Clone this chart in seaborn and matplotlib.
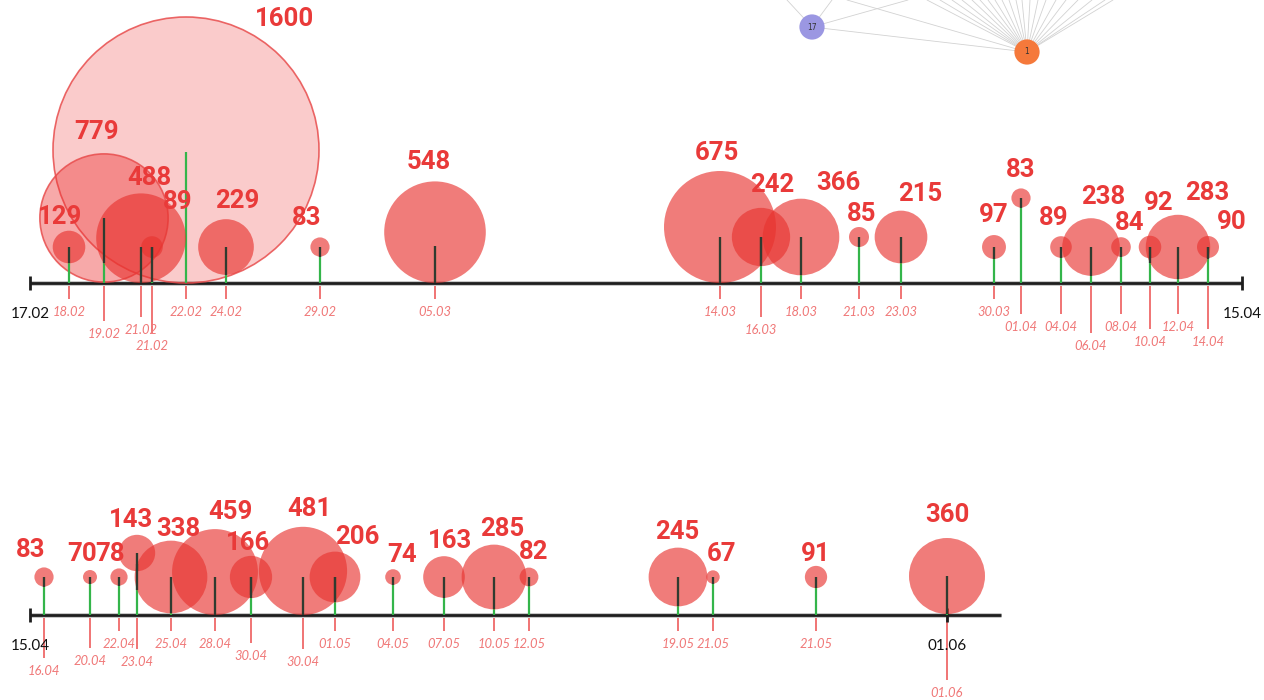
import numpy as np
import pandas as pd
import matplotlib.pyplot as plt
import seaborn as sns
from matplotlib.patches import Circle

# ---- first timeline : 17.02 -> 15.04
top_dates = ["18.02", "19.02", "21.02", "21.02", "22.02", "24.02", "29.02", "05.03",
             "14.03", "16.03", "18.03", "21.03", "23.03", "30.03", "01.04", "04.04",
             "06.04", "08.04", "10.04", "12.04", "14.04"]
top_values = [129, 779, 488, 89, 1600, 229, 83, 548,
              675, 242, 366, 85, 215, 97, 83, 89,
              238, 84, 92, 283, 90]
# where each date sits on the drawn timeline (the scale is not linear in days)
top_track = [69, 104, 141, 152, 186, 226, 320, 435,
             720, 761, 801, 859, 901, 994, 1021, 1061,
             1091, 1121, 1150, 1178, 1208]
top_stem = [36, 65, 36, 36, 131, 36, 36, 37,
            46, 46, 46, 46, 46, 36, 85, 36,
            36, 36, 36, 36, 36]
top_date_row = [29, 51, 47, 63, 29, 29, 29, 29,
                29, 47, 29, 29, 29, 29, 44, 44,
                63, 44, 59, 44, 59]
top_lbl_dx = [-9, -7, 8, 26, 99, 11, -13, -6,
              -3, 11, 37, 3, 19, 0, 0, -7,
              12, 9, 9, 29, 24]
top_lbl_dy = [3, -5, 2, -17, 19, -1, -2, -2,
              -1, -6, 1, 4, 0, -3, -1, -1,
              -4, 3, -16, -5, 3]
top_ends = ["17.02", "15.04"]
top_ends_track = [30, 1242]

# ---- second timeline : 15.04 -> 01.06
bot_dates = ["16.04", "20.04", "22.04", "23.04", "25.04", "28.04", "30.04", "30.04",
             "01.05", "04.05", "07.05", "10.05", "12.05", "19.05", "21.05", "21.05", "01.06"]
bot_values = [83, 70, 78, 143, 338, 459, 166, 481,
              206, 74, 163, 285, 82, 245, 67, 91, 360]
bot_track = [44, 90, 119, 137, 171, 215, 251, 303,
             335, 393, 444, 494, 529, 678, 713, 816, 947]
bot_stem = [38, 38, 38, 62, 38, 38, 38, 38,
            38, 38, 38, 38, 38, 38, 38, 38, 39]
bot_date_row = [56, 46, 29, 47, 29, 29, 41, 47,
                29, 29, 29, 29, 29, 29, 29, 29, 78]
bot_lbl_dx = [-13, -8, -9, -6, 7, 15, -3, 6,
              22, 9, 6, 8, 5, -1, 9, 0, 0]
bot_lbl_dy = [0, 1, 3, 2, 5, 0, 4, -1,
              2, 3, 2, 1, 1, 1, 1, 5, -6]
bot_ends = ["15.04", "01.06"]
bot_ends_track = [30, 947]
bot_axis_end = 1001

# ---- bit of a network graph cut off at the top
net_names = ["17", "1"]
net_x = [812, 1027]
net_y = [27, 52]
net_fill = ["#9b97e2", "#f5793b"]
edges_17_top = [787, 832, 908]
edges_1_top = [847, 927, 940, 952, 962, 972, 980, 988, 995, 1002, 1009,
               1016, 1022, 1030, 1038, 1046, 1056, 1066, 1078, 1092, 1105, 1113]

TOP_BASE, BOT_BASE = 283, 615
BUBBLE = "#e8332f"
VALUE_RED = "#e93a39"
DATE_RED = "#f07878"
STEM_RED = "#f07474"
GREEN = "#34b54a"
DARK = "#2f3b30"

# bubble radius scale (value -> px)
R_V = [0, 70, 90, 160, 240, 360, 480, 550, 700, 800, 1600]
R_PX = [0, 7, 11, 20.5, 29, 38, 44, 51, 57, 66, 133]


def build(dates, values, track, stem, row, dx, dy, base):
    df = pd.DataFrame({"date": dates, "value": values, "x": track, "stem": stem,
                       "row": row, "dx": dx, "dy": dy})
    df["r"] = np.interp(df["value"], R_V, R_PX)
    df["base"] = base
    df["cy"] = base - np.maximum(df["stem"], df["r"])
    df["top"] = base - df["stem"]
    df["big"] = df["value"] >= 700
    df["s"] = (1.44 * df["r"]) ** 2
    return df


df_top = build(top_dates, top_values, top_track, top_stem, top_date_row,
               top_lbl_dx, top_lbl_dy, TOP_BASE)
df_bot = build(bot_dates, bot_values, bot_track, bot_stem, bot_date_row,
               bot_lbl_dx, bot_lbl_dy, BOT_BASE)

sns.set_theme(style="white")
plt.rcParams["font.family"] = ["Lato", "DejaVu Sans"]

fig = plt.figure(figsize=(12.64, 7.0), dpi=100)
ax = fig.add_axes([0, 0, 1, 1])
ax.set_xlim(0, 1264)
ax.set_ylim(700, 0)
ax.axis("off")

# network fragment
for tx in edges_17_top:
    ax.plot([net_x[0], tx], [net_y[0], 0], color="#d2d2d2", lw=0.6, zorder=0)
for tx in edges_1_top:
    ax.plot([net_x[1], tx], [net_y[1], 0], color="#d2d2d2", lw=0.6, zorder=0)
ax.plot(net_x, net_y, color="#d2d2d2", lw=0.6, zorder=0)
net = pd.DataFrame({"name": net_names, "x": net_x, "y": net_y})
sns.scatterplot(data=net, x="x", y="y", hue="name", palette=net_fill, s=330,
                linewidth=0, legend=False, ax=ax, zorder=1)
for n, x, y in zip(net_names, net_x, net_y):
    ax.text(x, y, n, ha="center", va="center", fontsize=5.5, color="#333333",
            family="DejaVu Sans", zorder=2)


def draw_timeline(df, ends, ends_track, axis_end):
    base = df["base"].iloc[0]
    x1 = axis_end if axis_end else ends_track[1]
    ax.plot([ends_track[0], x1], [base, base], color="#c8c8c8", lw=3.6, zorder=1,
            solid_capstyle="butt")
    ax.plot([ends_track[0], x1], [base, base], color="#1e1e1e", lw=2.0, zorder=1.1,
            solid_capstyle="butt")
    ax.vlines(ends_track, base - 7, base + 7, color="#1e1e1e", lw=2.0, zorder=1.1)
    for lab, x in zip(ends, ends_track):
        ax.text(x, base + 31, lab, ha="center", va="center", fontsize=11,
                color="#111111", zorder=6)

    # red stems down to the date labels, green stems up to the bubbles
    ax.vlines(df["x"], base, base + df["row"] - 13, color=STEM_RED, lw=1.4, zorder=0.8)
    ax.vlines(df["x"], df["top"], base, color=GREEN, lw=1.6, zorder=2)

    big = df[df["big"]].sort_values("value", ascending=False)
    for _, b in big.iterrows():
        a = 0.25 if b["value"] > 1000 else 0.42
        ax.add_patch(Circle((b["x"], b["cy"]), b["r"], facecolor=(0.93, 0.2, 0.2, a),
                            edgecolor=(0.91, 0.3, 0.3, 0.85), lw=1.2, zorder=1.5))

    small = df[~df["big"]]
    sns.scatterplot(data=small, x="x", y="cy", s=small["s"].to_numpy(), color=BUBBLE,
                    alpha=0.64, linewidth=0, legend=False, ax=ax, zorder=3)

    # stem parts that sit inside a solid bubble look dark
    for _, st in df.iterrows():
        for _, b in small.iterrows():
            d = abs(st["x"] - b["x"])
            if d >= b["r"]:
                continue
            h = np.sqrt(b["r"] ** 2 - d ** 2)
            y0, y1 = max(st["top"], b["cy"] - h), min(base, b["cy"] + h)
            if y1 > y0:
                ax.vlines(st["x"], y0, y1, color=DARK, lw=1.6, zorder=4)

    for _, p in df.iterrows():
        ax.text(p["x"] + p["dx"], p["cy"] - p["r"] - 17 + p["dy"], str(p["value"]),
                ha="center", va="center", fontsize=18.5, fontweight="bold",
                family=["Roboto", "DejaVu Sans"], color=VALUE_RED, zorder=6)
        ax.text(p["x"], base + p["row"], p["date"], ha="center", va="center",
                fontsize=9.4, style="italic", fontweight="normal", color=DATE_RED,
                zorder=6)


draw_timeline(df_top, top_ends, top_ends_track, None)
draw_timeline(df_bot, bot_ends, bot_ends_track, bot_axis_end)

fig.savefig("out.png", dpi=100)
